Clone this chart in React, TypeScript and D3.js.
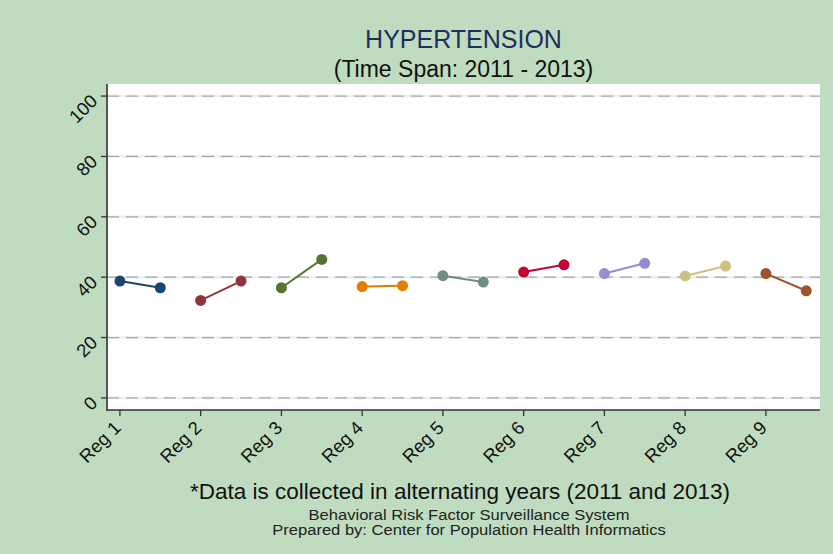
import * as d3 from "d3"

const regions = ["Reg 1", "Reg 2", "Reg 3", "Reg 4", "Reg 5", "Reg 6", "Reg 7", "Reg 8", "Reg 9"]
const values2011 = [38.7, 32.3, 36.5, 36.9, 40.5, 41.7, 41.2, 40.4, 41.2]
const values2013 = [36.5, 38.7, 45.9, 37.2, 38.4, 44.1, 44.6, 43.7, 35.5]
const colors = ["#1a476f", "#90353b", "#55752f", "#e37e00", "#6e8e84", "#c10534", "#938dd2", "#cac27e", "#a0522d"]
const yTicks = [0, 20, 40, 60, 80, 100]

const W = 833
const H = 554
const plot = { left: 107, right: 820, top: 84, bottom: 410 }
const font = "'Liberation Sans', Arial, Helvetica, sans-serif"

export default function App() {
  const x = d3.scaleLinear().domain([0.84, 9.67]).range([plot.left, plot.right])
  const y = d3.scaleLinear().domain([-4, 104]).range([plot.bottom, plot.top])
  const line = d3
    .line<number[]>()
    .x((d) => x(d[0]))
    .y((d) => y(d[1]))

  return (
    <svg
      width={W}
      height={H}
      style={{ position: "absolute", left: 0, top: 0, display: "block" }}
      fontFamily={font}
    >
      <rect x={0} y={0} width={W} height={H} fill="#c0dcc0" />
      <rect
        x={plot.left}
        y={plot.top}
        width={plot.right - plot.left}
        height={plot.bottom - plot.top}
        fill="#ffffff"
      />

      {/* grid */}
      {yTicks.map((t) => (
        <g key={"g" + t}>
          <line x1={plot.left} x2={plot.right} y1={y(t)} y2={y(t)} stroke="#eaf0f2" strokeWidth={2.5} />
          <line
            x1={plot.left}
            x2={plot.right}
            y1={y(t)}
            y2={y(t)}
            stroke="#a6a8a8"
            strokeWidth={1.3}
            strokeDasharray="12,7"
          />
        </g>
      ))}

      {/* series */}
      {regions.map((r, i) => {
        const pts = [
          [i + 1, values2011[i]],
          [i + 1.5, values2013[i]],
        ]
        return (
          <g key={r}>
            <path d={line(pts) || ""} fill="none" stroke={colors[i]} strokeWidth={2} />
            {pts.map((p, j) => (
              <circle key={j} cx={x(p[0])} cy={y(p[1])} r={5.5} fill={colors[i]} />
            ))}
          </g>
        )
      })}

      {/* axes */}
      <line x1={plot.left} x2={plot.left} y1={plot.top} y2={plot.bottom + 1} stroke="#555" strokeWidth={2} />
      <line x1={plot.left} x2={plot.right} y1={plot.bottom} y2={plot.bottom} stroke="#333" strokeWidth={1.5} />

      {yTicks.map((t) => {
        const px = plot.left - 13
        const py = y(t) + 1.7
        return (
          <g key={"yt" + t}>
            <line x1={plot.left - 6} x2={plot.left} y1={y(t)} y2={y(t)} stroke="#333" strokeWidth={1.3} />
            <text
              x={px}
              y={py}
              dy="0.35em"
              textAnchor="end"
              fontSize={18.5}
              fill="#111"
              transform={`rotate(-45, ${px}, ${py})`}
            >
              {t}
            </text>
          </g>
        )
      })}

      {regions.map((r, i) => {
        const px = x(i + 1) - 2.5
        const py = plot.bottom + 14.5
        return (
          <g key={"xt" + r}>
            <line x1={x(i + 1)} x2={x(i + 1)} y1={plot.bottom} y2={plot.bottom + 6} stroke="#333" strokeWidth={1.3} />
            <text
              x={px}
              y={py}
              dy="0.35em"
              textAnchor="end"
              fontSize={18.5}
              fill="#111"
              transform={`rotate(-45, ${px}, ${py})`}
            >
              {r}
            </text>
          </g>
        )
      })}

      {/* titles */}
      <text x={463.5} y={48} textAnchor="middle" fontSize={25} fill="#1e2f5e">
        HYPERTENSION
      </text>
      <text x={463.5} y={77} textAnchor="middle" fontSize={23} fill="#111">
        (Time Span: 2011 - 2013)
      </text>

      <text x={460} y={499} textAnchor="middle" fontSize={22.5} fill="#111">
        *Data is collected in alternating years (2011 and 2013)
      </text>
      <g transform="translate(469,519.5) scale(1.15,1)">
        <text x={0} y={0} textAnchor="middle" fontSize={14.4} fill="#222">
          Behavioral Risk Factor Surveillance System
        </text>
      </g>
      <g transform="translate(469,534.5) scale(1.15,1)">
        <text x={0} y={0} textAnchor="middle" fontSize={14.4} fill="#222">
          Prepared by: Center for Population Health Informatics
        </text>
      </g>
    </svg>
  )
}
